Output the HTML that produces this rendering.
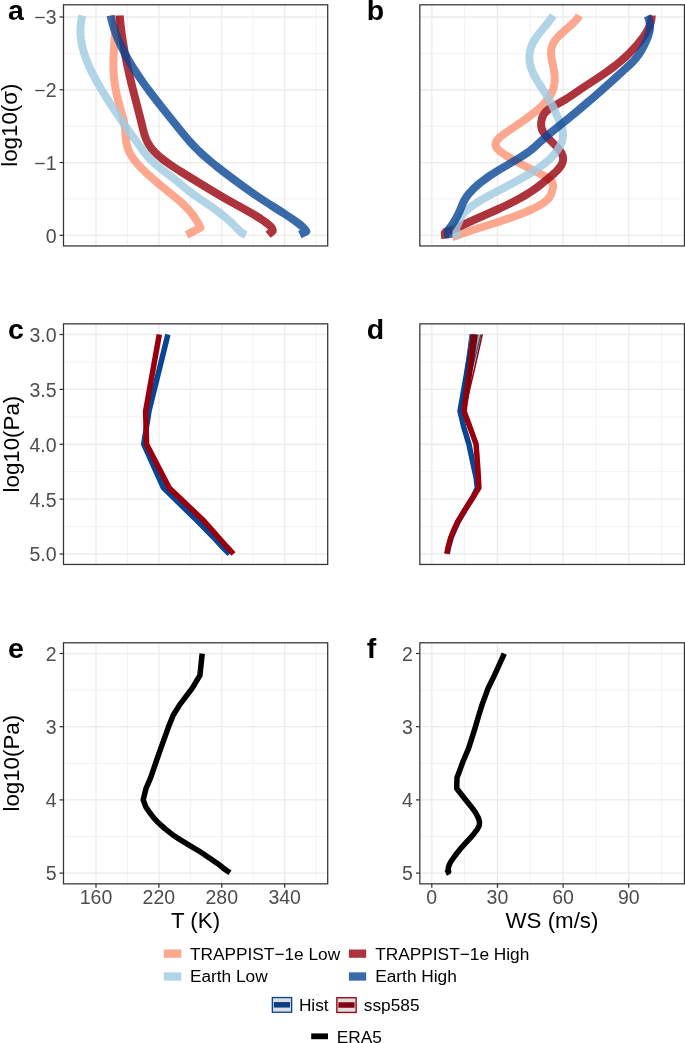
<!DOCTYPE html>
<html><head><meta charset="utf-8"><title>fig</title>
<style>
html,body{margin:0;padding:0;background:#fff;}
svg{display:block;will-change:transform;}
text{font-family:"Liberation Sans", sans-serif;}
</style></head><body>
<svg xmlns="http://www.w3.org/2000/svg" width="685" height="1043" viewBox="0 0 685 1043">
<rect width="685" height="1043" fill="#fff"/>
<defs>
<clipPath id="cp00"><rect x="63.50" y="4.80" width="264.20" height="241.15"/></clipPath>
<clipPath id="cp01"><rect x="63.50" y="323.85" width="264.20" height="240.60"/></clipPath>
<clipPath id="cp02"><rect x="63.50" y="642.80" width="264.20" height="241.05"/></clipPath>
<clipPath id="cp10"><rect x="419.85" y="4.80" width="264.60" height="241.15"/></clipPath>
<clipPath id="cp11"><rect x="419.85" y="323.85" width="264.60" height="240.60"/></clipPath>
<clipPath id="cp12"><rect x="419.85" y="642.80" width="264.60" height="241.05"/></clipPath>
</defs>
<rect x="63.50" y="4.80" width="264.20" height="241.15" fill="#fff"/>
<line x1="127.44" x2="127.44" y1="4.80" y2="245.95" stroke="#ebebeb" stroke-width="0.65"/>
<line x1="190.33" x2="190.33" y1="4.80" y2="245.95" stroke="#ebebeb" stroke-width="0.65"/>
<line x1="253.21" x2="253.21" y1="4.80" y2="245.95" stroke="#ebebeb" stroke-width="0.65"/>
<line x1="316.09" x2="316.09" y1="4.80" y2="245.95" stroke="#ebebeb" stroke-width="0.65"/>
<line x1="63.50" x2="327.70" y1="53.38" y2="53.38" stroke="#ebebeb" stroke-width="0.65"/>
<line x1="63.50" x2="327.70" y1="126.15" y2="126.15" stroke="#ebebeb" stroke-width="0.65"/>
<line x1="63.50" x2="327.70" y1="198.92" y2="198.92" stroke="#ebebeb" stroke-width="0.65"/>
<line x1="96.00" x2="96.00" y1="4.80" y2="245.95" stroke="#ebebeb" stroke-width="1.3"/>
<line x1="158.88" x2="158.88" y1="4.80" y2="245.95" stroke="#ebebeb" stroke-width="1.3"/>
<line x1="221.77" x2="221.77" y1="4.80" y2="245.95" stroke="#ebebeb" stroke-width="1.3"/>
<line x1="284.65" x2="284.65" y1="4.80" y2="245.95" stroke="#ebebeb" stroke-width="1.3"/>
<line x1="63.50" x2="327.70" y1="16.99" y2="16.99" stroke="#ebebeb" stroke-width="1.3"/>
<line x1="63.50" x2="327.70" y1="89.76" y2="89.76" stroke="#ebebeb" stroke-width="1.3"/>
<line x1="63.50" x2="327.70" y1="162.53" y2="162.53" stroke="#ebebeb" stroke-width="1.3"/>
<line x1="63.50" x2="327.70" y1="235.30" y2="235.30" stroke="#ebebeb" stroke-width="1.3"/>
<rect x="419.85" y="4.80" width="264.60" height="241.15" fill="#fff"/>
<line x1="464.62" x2="464.62" y1="4.80" y2="245.95" stroke="#ebebeb" stroke-width="0.65"/>
<line x1="530.27" x2="530.27" y1="4.80" y2="245.95" stroke="#ebebeb" stroke-width="0.65"/>
<line x1="595.92" x2="595.92" y1="4.80" y2="245.95" stroke="#ebebeb" stroke-width="0.65"/>
<line x1="661.58" x2="661.58" y1="4.80" y2="245.95" stroke="#ebebeb" stroke-width="0.65"/>
<line x1="419.85" x2="684.45" y1="53.38" y2="53.38" stroke="#ebebeb" stroke-width="0.65"/>
<line x1="419.85" x2="684.45" y1="126.15" y2="126.15" stroke="#ebebeb" stroke-width="0.65"/>
<line x1="419.85" x2="684.45" y1="198.92" y2="198.92" stroke="#ebebeb" stroke-width="0.65"/>
<line x1="431.80" x2="431.80" y1="4.80" y2="245.95" stroke="#ebebeb" stroke-width="1.3"/>
<line x1="497.45" x2="497.45" y1="4.80" y2="245.95" stroke="#ebebeb" stroke-width="1.3"/>
<line x1="563.10" x2="563.10" y1="4.80" y2="245.95" stroke="#ebebeb" stroke-width="1.3"/>
<line x1="628.75" x2="628.75" y1="4.80" y2="245.95" stroke="#ebebeb" stroke-width="1.3"/>
<line x1="419.85" x2="684.45" y1="16.99" y2="16.99" stroke="#ebebeb" stroke-width="1.3"/>
<line x1="419.85" x2="684.45" y1="89.76" y2="89.76" stroke="#ebebeb" stroke-width="1.3"/>
<line x1="419.85" x2="684.45" y1="162.53" y2="162.53" stroke="#ebebeb" stroke-width="1.3"/>
<line x1="419.85" x2="684.45" y1="235.30" y2="235.30" stroke="#ebebeb" stroke-width="1.3"/>
<rect x="63.50" y="323.85" width="264.20" height="240.60" fill="#fff"/>
<line x1="127.44" x2="127.44" y1="323.85" y2="564.45" stroke="#ebebeb" stroke-width="0.65"/>
<line x1="190.33" x2="190.33" y1="323.85" y2="564.45" stroke="#ebebeb" stroke-width="0.65"/>
<line x1="253.21" x2="253.21" y1="323.85" y2="564.45" stroke="#ebebeb" stroke-width="0.65"/>
<line x1="316.09" x2="316.09" y1="323.85" y2="564.45" stroke="#ebebeb" stroke-width="0.65"/>
<line x1="63.50" x2="327.70" y1="361.94" y2="361.94" stroke="#ebebeb" stroke-width="0.65"/>
<line x1="63.50" x2="327.70" y1="416.81" y2="416.81" stroke="#ebebeb" stroke-width="0.65"/>
<line x1="63.50" x2="327.70" y1="471.69" y2="471.69" stroke="#ebebeb" stroke-width="0.65"/>
<line x1="63.50" x2="327.70" y1="526.56" y2="526.56" stroke="#ebebeb" stroke-width="0.65"/>
<line x1="96.00" x2="96.00" y1="323.85" y2="564.45" stroke="#ebebeb" stroke-width="1.3"/>
<line x1="158.88" x2="158.88" y1="323.85" y2="564.45" stroke="#ebebeb" stroke-width="1.3"/>
<line x1="221.77" x2="221.77" y1="323.85" y2="564.45" stroke="#ebebeb" stroke-width="1.3"/>
<line x1="284.65" x2="284.65" y1="323.85" y2="564.45" stroke="#ebebeb" stroke-width="1.3"/>
<line x1="63.50" x2="327.70" y1="334.50" y2="334.50" stroke="#ebebeb" stroke-width="1.3"/>
<line x1="63.50" x2="327.70" y1="389.38" y2="389.38" stroke="#ebebeb" stroke-width="1.3"/>
<line x1="63.50" x2="327.70" y1="444.25" y2="444.25" stroke="#ebebeb" stroke-width="1.3"/>
<line x1="63.50" x2="327.70" y1="499.12" y2="499.12" stroke="#ebebeb" stroke-width="1.3"/>
<line x1="63.50" x2="327.70" y1="554.00" y2="554.00" stroke="#ebebeb" stroke-width="1.3"/>
<rect x="419.85" y="323.85" width="264.60" height="240.60" fill="#fff"/>
<line x1="464.62" x2="464.62" y1="323.85" y2="564.45" stroke="#ebebeb" stroke-width="0.65"/>
<line x1="530.27" x2="530.27" y1="323.85" y2="564.45" stroke="#ebebeb" stroke-width="0.65"/>
<line x1="595.92" x2="595.92" y1="323.85" y2="564.45" stroke="#ebebeb" stroke-width="0.65"/>
<line x1="661.58" x2="661.58" y1="323.85" y2="564.45" stroke="#ebebeb" stroke-width="0.65"/>
<line x1="419.85" x2="684.45" y1="361.94" y2="361.94" stroke="#ebebeb" stroke-width="0.65"/>
<line x1="419.85" x2="684.45" y1="416.81" y2="416.81" stroke="#ebebeb" stroke-width="0.65"/>
<line x1="419.85" x2="684.45" y1="471.69" y2="471.69" stroke="#ebebeb" stroke-width="0.65"/>
<line x1="419.85" x2="684.45" y1="526.56" y2="526.56" stroke="#ebebeb" stroke-width="0.65"/>
<line x1="431.80" x2="431.80" y1="323.85" y2="564.45" stroke="#ebebeb" stroke-width="1.3"/>
<line x1="497.45" x2="497.45" y1="323.85" y2="564.45" stroke="#ebebeb" stroke-width="1.3"/>
<line x1="563.10" x2="563.10" y1="323.85" y2="564.45" stroke="#ebebeb" stroke-width="1.3"/>
<line x1="628.75" x2="628.75" y1="323.85" y2="564.45" stroke="#ebebeb" stroke-width="1.3"/>
<line x1="419.85" x2="684.45" y1="334.50" y2="334.50" stroke="#ebebeb" stroke-width="1.3"/>
<line x1="419.85" x2="684.45" y1="389.38" y2="389.38" stroke="#ebebeb" stroke-width="1.3"/>
<line x1="419.85" x2="684.45" y1="444.25" y2="444.25" stroke="#ebebeb" stroke-width="1.3"/>
<line x1="419.85" x2="684.45" y1="499.12" y2="499.12" stroke="#ebebeb" stroke-width="1.3"/>
<line x1="419.85" x2="684.45" y1="554.00" y2="554.00" stroke="#ebebeb" stroke-width="1.3"/>
<rect x="63.50" y="642.80" width="264.20" height="241.05" fill="#fff"/>
<line x1="127.44" x2="127.44" y1="642.80" y2="883.85" stroke="#ebebeb" stroke-width="0.65"/>
<line x1="190.33" x2="190.33" y1="642.80" y2="883.85" stroke="#ebebeb" stroke-width="0.65"/>
<line x1="253.21" x2="253.21" y1="642.80" y2="883.85" stroke="#ebebeb" stroke-width="0.65"/>
<line x1="316.09" x2="316.09" y1="642.80" y2="883.85" stroke="#ebebeb" stroke-width="0.65"/>
<line x1="63.50" x2="327.70" y1="690.10" y2="690.10" stroke="#ebebeb" stroke-width="0.65"/>
<line x1="63.50" x2="327.70" y1="763.30" y2="763.30" stroke="#ebebeb" stroke-width="0.65"/>
<line x1="63.50" x2="327.70" y1="836.50" y2="836.50" stroke="#ebebeb" stroke-width="0.65"/>
<line x1="96.00" x2="96.00" y1="642.80" y2="883.85" stroke="#ebebeb" stroke-width="1.3"/>
<line x1="158.88" x2="158.88" y1="642.80" y2="883.85" stroke="#ebebeb" stroke-width="1.3"/>
<line x1="221.77" x2="221.77" y1="642.80" y2="883.85" stroke="#ebebeb" stroke-width="1.3"/>
<line x1="284.65" x2="284.65" y1="642.80" y2="883.85" stroke="#ebebeb" stroke-width="1.3"/>
<line x1="63.50" x2="327.70" y1="653.50" y2="653.50" stroke="#ebebeb" stroke-width="1.3"/>
<line x1="63.50" x2="327.70" y1="726.70" y2="726.70" stroke="#ebebeb" stroke-width="1.3"/>
<line x1="63.50" x2="327.70" y1="799.90" y2="799.90" stroke="#ebebeb" stroke-width="1.3"/>
<line x1="63.50" x2="327.70" y1="873.10" y2="873.10" stroke="#ebebeb" stroke-width="1.3"/>
<rect x="419.85" y="642.80" width="264.60" height="241.05" fill="#fff"/>
<line x1="464.62" x2="464.62" y1="642.80" y2="883.85" stroke="#ebebeb" stroke-width="0.65"/>
<line x1="530.27" x2="530.27" y1="642.80" y2="883.85" stroke="#ebebeb" stroke-width="0.65"/>
<line x1="595.92" x2="595.92" y1="642.80" y2="883.85" stroke="#ebebeb" stroke-width="0.65"/>
<line x1="661.58" x2="661.58" y1="642.80" y2="883.85" stroke="#ebebeb" stroke-width="0.65"/>
<line x1="419.85" x2="684.45" y1="690.10" y2="690.10" stroke="#ebebeb" stroke-width="0.65"/>
<line x1="419.85" x2="684.45" y1="763.30" y2="763.30" stroke="#ebebeb" stroke-width="0.65"/>
<line x1="419.85" x2="684.45" y1="836.50" y2="836.50" stroke="#ebebeb" stroke-width="0.65"/>
<line x1="431.80" x2="431.80" y1="642.80" y2="883.85" stroke="#ebebeb" stroke-width="1.3"/>
<line x1="497.45" x2="497.45" y1="642.80" y2="883.85" stroke="#ebebeb" stroke-width="1.3"/>
<line x1="563.10" x2="563.10" y1="642.80" y2="883.85" stroke="#ebebeb" stroke-width="1.3"/>
<line x1="628.75" x2="628.75" y1="642.80" y2="883.85" stroke="#ebebeb" stroke-width="1.3"/>
<line x1="419.85" x2="684.45" y1="653.50" y2="653.50" stroke="#ebebeb" stroke-width="1.3"/>
<line x1="419.85" x2="684.45" y1="726.70" y2="726.70" stroke="#ebebeb" stroke-width="1.3"/>
<line x1="419.85" x2="684.45" y1="799.90" y2="799.90" stroke="#ebebeb" stroke-width="1.3"/>
<line x1="419.85" x2="684.45" y1="873.10" y2="873.10" stroke="#ebebeb" stroke-width="1.3"/>
<g clip-path="url(#cp00)">
<path d="M115.33,15.50 L115.35,17.00 L115.36,18.50 L115.36,20.00 L115.35,21.50 L115.32,23.00 L115.29,24.50 L115.24,26.00 L115.19,27.50 L115.13,29.00 L115.06,30.50 L114.99,32.00 L114.91,33.50 L114.83,35.00 L114.74,36.50 L114.65,38.00 L114.56,39.50 L114.46,41.00 L114.37,42.50 L114.28,44.00 L114.19,45.50 L114.10,47.00 L114.01,48.50 L113.92,50.00 L113.84,51.50 L113.77,53.00 L113.70,54.50 L113.64,56.00 L113.59,57.50 L113.54,59.00 L113.51,60.50 L113.48,62.00 L113.47,63.50 L113.46,65.00 L113.47,66.50 L113.50,68.00 L113.53,69.50 L113.58,71.00 L113.65,72.50 L113.74,74.00 L113.84,75.50 L113.96,77.00 L114.10,78.50 L114.26,80.00 L114.44,81.50 L114.64,83.00 L114.86,84.50 L115.09,86.00 L115.35,87.50 L115.62,89.00 L115.91,90.50 L116.22,92.00 L116.54,93.50 L116.87,95.00 L117.21,96.50 L117.57,98.00 L117.94,99.50 L118.32,101.00 L118.71,102.50 L119.11,104.00 L119.51,105.50 L119.92,107.00 L120.34,108.50 L120.76,110.00 L121.19,111.50 L121.62,113.00 L122.05,114.50 L122.46,116.00 L122.87,117.50 L123.25,119.00 L123.61,120.50 L123.95,122.00 L124.25,123.50 L124.51,125.00 L124.74,126.50 L124.92,128.00 L125.08,129.50 L125.21,131.00 L125.33,132.50 L125.44,134.00 L125.55,135.50 L125.68,137.00 L125.82,138.50 L126.00,140.00 L126.20,141.50 L126.45,143.00 L126.75,144.50 L127.11,146.00 L127.54,147.50 L128.05,149.00 L128.64,150.50 L129.32,152.00 L130.08,153.50 L130.93,155.00 L131.87,156.50 L132.88,158.00 L133.96,159.50 L135.12,161.00 L136.34,162.50 L137.63,164.00 L138.97,165.50 L140.37,167.00 L141.82,168.50 L143.32,170.00 L144.86,171.50 L146.45,173.00 L148.07,174.50 L149.72,176.00 L151.41,177.50 L153.12,179.00 L154.85,180.50 L156.60,182.00 L158.37,183.50 L160.16,185.00 L161.97,186.50 L163.79,188.00 L165.63,189.50 L167.49,191.00 L169.36,192.50 L171.23,194.00 L173.09,195.50 L174.93,197.00 L176.73,198.50 L178.49,200.00 L180.20,201.50 L181.85,203.00 L183.44,204.50 L184.97,206.00 L186.44,207.50 L187.85,209.00 L189.20,210.50 L190.49,212.00 L191.72,213.50 L192.88,215.00 L193.99,216.50 L195.04,218.00 L196.03,219.50 L196.95,221.00 L197.82,222.50 L198.62,224.00 L199.35,225.50 L200.02,227.00 L200.31,227.70 L186.6,234.9" fill="none" stroke="#fc9272" stroke-width="8.00" stroke-opacity="0.80" stroke-linecap="butt" stroke-linejoin="round"/>
<path d="M119.70,15.50 L119.83,17.00 L119.97,18.50 L120.11,20.00 L120.26,21.50 L120.41,23.00 L120.58,24.50 L120.75,26.00 L120.92,27.50 L121.10,29.00 L121.29,30.50 L121.48,32.00 L121.68,33.50 L121.89,35.00 L122.10,36.50 L122.32,38.00 L122.55,39.50 L122.78,41.00 L123.01,42.50 L123.26,44.00 L123.50,45.50 L123.76,47.00 L124.01,48.50 L124.28,50.00 L124.55,51.50 L124.82,53.00 L125.10,54.50 L125.39,56.00 L125.68,57.50 L125.97,59.00 L126.27,60.50 L126.58,62.00 L126.89,63.50 L127.20,65.00 L127.52,66.50 L127.84,68.00 L128.17,69.50 L128.50,71.00 L128.84,72.50 L129.18,74.00 L129.53,75.50 L129.88,77.00 L130.23,78.50 L130.59,80.00 L130.95,81.50 L131.31,83.00 L131.68,84.50 L132.05,86.00 L132.43,87.50 L132.81,89.00 L133.19,90.50 L133.57,92.00 L133.95,93.50 L134.34,95.00 L134.73,96.50 L135.11,98.00 L135.50,99.50 L135.89,101.00 L136.28,102.50 L136.67,104.00 L137.06,105.50 L137.45,107.00 L137.84,108.50 L138.22,110.00 L138.61,111.50 L138.99,113.00 L139.38,114.50 L139.76,116.00 L140.14,117.50 L140.51,119.00 L140.88,120.50 L141.25,122.00 L141.62,123.50 L141.98,125.00 L142.34,126.50 L142.70,128.00 L143.07,129.50 L143.45,131.00 L143.86,132.50 L144.29,134.00 L144.77,135.50 L145.29,137.00 L145.86,138.50 L146.50,140.00 L147.20,141.50 L147.98,143.00 L148.84,144.50 L149.79,146.00 L150.84,147.50 L151.99,149.00 L153.26,150.50 L154.64,152.00 L156.13,153.50 L157.74,155.00 L159.44,156.50 L161.24,158.00 L163.13,159.50 L165.10,161.00 L167.14,162.50 L169.25,164.00 L171.43,165.50 L173.66,167.00 L175.95,168.50 L178.27,170.00 L180.64,171.50 L183.03,173.00 L185.45,174.50 L187.89,176.00 L190.34,177.50 L192.80,179.00 L195.25,180.50 L197.70,182.00 L200.15,183.50 L202.59,185.00 L205.04,186.50 L207.50,188.00 L209.97,189.50 L212.45,191.00 L214.95,192.50 L217.46,194.00 L220.00,195.50 L222.57,197.00 L225.17,198.50 L227.80,200.00 L230.47,201.50 L233.17,203.00 L235.89,204.50 L238.62,206.00 L241.35,207.50 L244.06,209.00 L246.74,210.50 L249.39,212.00 L251.99,213.50 L254.53,215.00 L257.00,216.50 L259.38,218.00 L261.68,219.50 L263.87,221.00 L265.94,222.50 L267.88,224.00 L269.63,225.50 L271.09,227.00 L272.14,228.50 L272.68,230.00 L272.72,230.90 L268.1,234.8" fill="none" stroke="#99000d" stroke-width="8.00" stroke-opacity="0.80" stroke-linecap="butt" stroke-linejoin="round"/>
<path d="M82.39,15.50 L82.01,17.00 L81.68,18.50 L81.38,20.00 L81.13,21.50 L80.92,23.00 L80.75,24.50 L80.61,26.00 L80.52,27.50 L80.46,29.00 L80.43,30.50 L80.45,32.00 L80.50,33.50 L80.58,35.00 L80.70,36.50 L80.85,38.00 L81.03,39.50 L81.25,41.00 L81.50,42.50 L81.77,44.00 L82.08,45.50 L82.42,47.00 L82.79,48.50 L83.18,50.00 L83.60,51.50 L84.05,53.00 L84.53,54.50 L85.03,56.00 L85.55,57.50 L86.10,59.00 L86.67,60.50 L87.27,62.00 L87.89,63.50 L88.53,65.00 L89.19,66.50 L89.86,68.00 L90.56,69.50 L91.28,71.00 L92.02,72.50 L92.77,74.00 L93.54,75.50 L94.33,77.00 L95.13,78.50 L95.95,80.00 L96.78,81.50 L97.62,83.00 L98.48,84.50 L99.35,86.00 L100.23,87.50 L101.12,89.00 L102.03,90.50 L102.94,92.00 L103.86,93.50 L104.79,95.00 L105.72,96.50 L106.67,98.00 L107.62,99.50 L108.57,101.00 L109.54,102.50 L110.51,104.00 L111.49,105.50 L112.47,107.00 L113.46,108.50 L114.45,110.00 L115.45,111.50 L116.46,113.00 L117.47,114.50 L118.49,116.00 L119.51,117.50 L120.53,119.00 L121.56,120.50 L122.60,122.00 L123.64,123.50 L124.68,125.00 L125.73,126.50 L126.78,128.00 L127.84,129.50 L128.90,131.00 L129.96,132.50 L131.02,134.00 L132.09,135.50 L133.16,137.00 L134.24,138.50 L135.31,140.00 L136.39,141.50 L137.47,143.00 L138.56,144.50 L139.65,146.00 L140.75,147.50 L141.86,149.00 L142.99,150.50 L144.12,152.00 L145.28,153.50 L146.49,155.00 L147.74,156.50 L149.07,158.00 L150.47,159.50 L151.97,161.00 L153.57,162.50 L155.25,164.00 L157.01,165.50 L158.84,167.00 L160.71,168.50 L162.63,170.00 L164.57,171.50 L166.54,173.00 L168.50,174.50 L170.46,176.00 L172.40,177.50 L174.31,179.00 L176.18,180.50 L177.99,182.00 L179.77,183.50 L181.54,185.00 L183.31,186.50 L185.11,188.00 L186.95,189.50 L188.86,191.00 L190.84,192.50 L192.88,194.00 L194.98,195.50 L197.13,197.00 L199.30,198.50 L201.50,200.00 L203.72,201.50 L205.93,203.00 L208.14,204.50 L210.33,206.00 L212.49,207.50 L214.61,209.00 L216.68,210.50 L218.69,212.00 L220.65,213.50 L222.55,215.00 L224.39,216.50 L226.17,218.00 L227.91,219.50 L229.59,221.00 L231.21,222.50 L232.79,224.00 L234.31,225.50 L235.79,227.00 L237.22,228.50 L238.65,230.00 L240.27,231.50 L242.27,233.00 L244.88,234.50 L245.91,235.00" fill="none" stroke="#9ecae1" stroke-width="8.00" stroke-opacity="0.80" stroke-linecap="butt" stroke-linejoin="round"/>
<path d="M110.59,15.50 L110.90,17.00 L111.24,18.50 L111.60,20.00 L111.98,21.50 L112.38,23.00 L112.80,24.50 L113.25,26.00 L113.71,27.50 L114.20,29.00 L114.71,30.50 L115.24,32.00 L115.78,33.50 L116.35,35.00 L116.94,36.50 L117.55,38.00 L118.17,39.50 L118.82,41.00 L119.48,42.50 L120.16,44.00 L120.86,45.50 L121.58,47.00 L122.31,48.50 L123.07,50.00 L123.84,51.50 L124.62,53.00 L125.42,54.50 L126.24,56.00 L127.08,57.50 L127.92,59.00 L128.79,60.50 L129.67,62.00 L130.57,63.50 L131.47,65.00 L132.40,66.50 L133.34,68.00 L134.29,69.50 L135.25,71.00 L136.23,72.50 L137.22,74.00 L138.23,75.50 L139.25,77.00 L140.27,78.50 L141.32,80.00 L142.37,81.50 L143.43,83.00 L144.51,84.50 L145.59,86.00 L146.69,87.50 L147.79,89.00 L148.91,90.50 L150.03,92.00 L151.16,93.50 L152.30,95.00 L153.45,96.50 L154.60,98.00 L155.76,99.50 L156.93,101.00 L158.10,102.50 L159.27,104.00 L160.46,105.50 L161.64,107.00 L162.83,108.50 L164.03,110.00 L165.22,111.50 L166.42,113.00 L167.62,114.50 L168.83,116.00 L170.03,117.50 L171.24,119.00 L172.44,120.50 L173.65,122.00 L174.86,123.50 L176.06,125.00 L177.26,126.50 L178.47,128.00 L179.68,129.50 L180.89,131.00 L182.11,132.50 L183.34,134.00 L184.59,135.50 L185.85,137.00 L187.13,138.50 L188.43,140.00 L189.75,141.50 L191.10,143.00 L192.48,144.50 L193.89,146.00 L195.34,147.50 L196.82,149.00 L198.34,150.50 L199.90,152.00 L201.50,153.50 L203.14,155.00 L204.82,156.50 L206.53,158.00 L208.28,159.50 L210.06,161.00 L211.86,162.50 L213.70,164.00 L215.56,165.50 L217.44,167.00 L219.35,168.50 L221.27,170.00 L223.22,171.50 L225.19,173.00 L227.17,174.50 L229.16,176.00 L231.16,177.50 L233.18,179.00 L235.20,180.50 L237.23,182.00 L239.27,183.50 L241.32,185.00 L243.39,186.50 L245.47,188.00 L247.56,189.50 L249.68,191.00 L251.81,192.50 L253.97,194.00 L256.15,195.50 L258.36,197.00 L260.60,198.50 L262.87,200.00 L265.17,201.50 L267.50,203.00 L269.85,204.50 L272.22,206.00 L274.59,207.50 L276.97,209.00 L279.33,210.50 L281.69,212.00 L284.02,213.50 L286.33,215.00 L288.60,216.50 L290.83,218.00 L293.01,219.50 L295.13,221.00 L297.19,222.50 L299.18,224.00 L301.06,225.50 L302.78,227.00 L304.26,228.50 L305.43,230.00 L306.23,231.50 L299.8,234.6" fill="none" stroke="#084594" stroke-width="8.00" stroke-opacity="0.80" stroke-linecap="butt" stroke-linejoin="round"/>
</g>
<g clip-path="url(#cp10)">
<path d="M579.32,15.50 L578.43,17.00 L577.36,18.50 L576.12,20.00 L574.74,21.50 L573.25,23.00 L571.67,24.50 L570.01,26.00 L568.31,27.50 L566.58,29.00 L564.85,30.50 L563.15,32.00 L561.48,33.50 L559.89,35.00 L558.38,36.50 L556.98,38.00 L555.73,39.50 L554.63,41.00 L553.69,42.50 L552.92,44.00 L552.30,45.50 L551.81,47.00 L551.45,48.50 L551.21,50.00 L551.08,51.50 L551.04,53.00 L551.08,54.50 L551.20,56.00 L551.38,57.50 L551.61,59.00 L551.89,60.50 L552.19,62.00 L552.52,63.50 L552.86,65.00 L553.19,66.50 L553.51,68.00 L553.81,69.50 L554.08,71.00 L554.30,72.50 L554.48,74.00 L554.62,75.50 L554.70,77.00 L554.72,78.50 L554.69,80.00 L554.60,81.50 L554.44,83.00 L554.22,84.50 L553.93,86.00 L553.56,87.50 L553.11,89.00 L552.59,90.50 L551.98,92.00 L551.28,93.50 L550.49,95.00 L549.61,96.50 L548.64,98.00 L547.56,99.50 L546.38,101.00 L545.10,102.50 L543.72,104.00 L542.25,105.50 L540.69,107.00 L539.05,108.50 L537.33,110.00 L535.54,111.50 L533.69,113.00 L531.77,114.50 L529.81,116.00 L527.79,117.50 L525.73,119.00 L523.63,120.50 L521.50,122.00 L519.34,123.50 L517.16,125.00 L514.97,126.50 L512.76,128.00 L510.55,129.50 L508.34,131.00 L506.15,132.50 L504.03,134.00 L502.03,135.50 L500.21,137.00 L498.61,138.50 L497.29,140.00 L496.29,141.50 L495.67,143.00 L495.48,144.50 L495.76,146.00 L496.50,147.50 L497.64,149.00 L499.12,150.50 L500.89,152.00 L502.92,153.50 L505.16,155.00 L507.57,156.50 L510.13,158.00 L512.78,159.50 L515.50,161.00 L518.26,162.50 L521.06,164.00 L523.90,165.50 L526.78,167.00 L529.71,168.50 L532.68,170.00 L535.69,171.50 L538.69,173.00 L541.60,174.50 L544.32,176.00 L546.79,177.50 L548.91,179.00 L550.60,180.50 L551.80,182.00 L552.56,183.50 L552.94,185.00 L553.02,186.50 L552.86,188.00 L552.54,189.50 L552.13,191.00 L551.65,192.50 L551.08,194.00 L550.36,195.50 L549.46,197.00 L548.33,198.50 L546.95,200.00 L545.26,201.50 L543.27,203.00 L540.99,204.50 L538.43,206.00 L535.61,207.50 L532.55,209.00 L529.25,210.50 L525.75,212.00 L522.04,213.50 L518.15,215.00 L514.10,216.50 L509.89,218.00 L505.55,219.50 L501.08,221.00 L496.51,222.50 L491.85,224.00 L487.11,225.50 L482.31,227.00 L477.47,228.50 L472.60,230.00 L470.98,230.50 L452,237.2" fill="none" stroke="#fc9272" stroke-width="8.00" stroke-opacity="0.80" stroke-linecap="butt" stroke-linejoin="round"/>
<path d="M651.63,15.50 L651.62,17.00 L651.51,18.50 L651.30,20.00 L650.99,21.50 L650.59,23.00 L650.11,24.50 L649.54,26.00 L648.90,27.50 L648.18,29.00 L647.39,30.50 L646.54,32.00 L645.62,33.50 L644.65,35.00 L643.62,36.50 L642.54,38.00 L641.42,39.50 L640.26,41.00 L639.06,42.50 L637.82,44.00 L636.54,45.50 L635.22,47.00 L633.85,48.50 L632.45,50.00 L631.00,51.50 L629.51,53.00 L627.97,54.50 L626.39,56.00 L624.77,57.50 L623.09,59.00 L621.37,60.50 L619.60,62.00 L617.79,63.50 L615.92,65.00 L614.00,66.50 L612.03,68.00 L610.01,69.50 L607.94,71.00 L605.82,72.50 L603.65,74.00 L601.45,75.50 L599.21,77.00 L596.95,78.50 L594.67,80.00 L592.39,81.50 L590.10,83.00 L587.81,84.50 L585.53,86.00 L583.27,87.50 L581.03,89.00 L578.82,90.50 L576.64,92.00 L574.47,93.50 L572.28,95.00 L570.05,96.50 L567.74,98.00 L565.34,99.50 L562.81,101.00 L560.17,102.50 L557.49,104.00 L554.84,105.50 L552.31,107.00 L549.97,108.50 L547.90,110.00 L546.17,111.50 L544.78,113.00 L543.69,114.50 L542.86,116.00 L542.25,117.50 L541.80,119.00 L541.48,120.50 L541.25,122.00 L541.12,123.50 L541.12,125.00 L541.26,126.50 L541.55,128.00 L542.03,129.50 L542.70,131.00 L543.57,132.50 L544.62,134.00 L545.81,135.50 L547.12,137.00 L548.53,138.50 L550.00,140.00 L551.51,141.50 L553.03,143.00 L554.53,144.50 L555.98,146.00 L557.36,147.50 L558.65,149.00 L559.81,150.50 L560.81,152.00 L561.65,153.50 L562.31,155.00 L562.78,156.50 L563.04,158.00 L563.09,159.50 L562.90,161.00 L562.49,162.50 L561.86,164.00 L561.03,165.50 L560.02,167.00 L558.85,168.50 L557.54,170.00 L556.10,171.50 L554.55,173.00 L552.90,174.50 L551.19,176.00 L549.42,177.50 L547.61,179.00 L545.77,180.50 L543.93,182.00 L542.08,183.50 L540.18,185.00 L538.24,186.50 L536.23,188.00 L534.14,189.50 L531.95,191.00 L529.66,192.50 L527.27,194.00 L524.77,195.50 L522.19,197.00 L519.51,198.50 L516.74,200.00 L513.88,201.50 L510.94,203.00 L507.93,204.50 L504.83,206.00 L501.67,207.50 L498.44,209.00 L495.14,210.50 L491.78,212.00 L488.38,213.50 L484.96,215.00 L481.54,216.50 L478.13,218.00 L474.76,219.50 L471.45,221.00 L468.19,222.50 L464.96,224.00 L461.71,225.50 L458.41,227.00 L455.03,228.50 L451.52,230.00 L446,231.5 L444.8,233 L445.3,238.7" fill="none" stroke="#99000d" stroke-width="8.00" stroke-opacity="0.80" stroke-linecap="butt" stroke-linejoin="round"/>
<path d="M553.16,15.50 L552.20,17.00 L551.16,18.50 L550.07,20.00 L548.93,21.50 L547.74,23.00 L546.53,24.50 L545.29,26.00 L544.05,27.50 L542.80,29.00 L541.56,30.50 L540.34,32.00 L539.14,33.50 L537.99,35.00 L536.89,36.50 L535.84,38.00 L534.86,39.50 L533.96,41.00 L533.14,42.50 L532.41,44.00 L531.75,45.50 L531.18,47.00 L530.69,48.50 L530.28,50.00 L529.94,51.50 L529.68,53.00 L529.50,54.50 L529.39,56.00 L529.36,57.50 L529.40,59.00 L529.51,60.50 L529.69,62.00 L529.94,63.50 L530.26,65.00 L530.64,66.50 L531.09,68.00 L531.61,69.50 L532.19,71.00 L532.83,72.50 L533.53,74.00 L534.28,75.50 L535.08,77.00 L535.92,78.50 L536.79,80.00 L537.70,81.50 L538.63,83.00 L539.59,84.50 L540.56,86.00 L541.54,87.50 L542.53,89.00 L543.51,90.50 L544.50,92.00 L545.47,93.50 L546.43,95.00 L547.38,96.50 L548.29,98.00 L549.18,99.50 L550.04,101.00 L550.85,102.50 L551.64,104.00 L552.39,105.50 L553.12,107.00 L553.82,108.50 L554.51,110.00 L555.17,111.50 L555.83,113.00 L556.47,114.50 L557.10,116.00 L557.74,117.50 L558.37,119.00 L559.00,120.50 L559.64,122.00 L560.26,123.50 L560.86,125.00 L561.42,126.50 L561.91,128.00 L562.33,129.50 L562.65,131.00 L562.87,132.50 L562.99,134.00 L562.99,135.50 L562.88,137.00 L562.66,138.50 L562.33,140.00 L561.87,141.50 L561.31,143.00 L560.64,144.50 L559.87,146.00 L559.02,147.50 L558.08,149.00 L557.08,150.50 L556.01,152.00 L554.86,153.50 L553.64,155.00 L552.32,156.50 L550.90,158.00 L549.36,159.50 L547.71,161.00 L545.92,162.50 L544.02,164.00 L542.01,165.50 L539.90,167.00 L537.69,168.50 L535.41,170.00 L533.05,171.50 L530.62,173.00 L528.13,174.50 L525.58,176.00 L522.97,177.50 L520.32,179.00 L517.62,180.50 L514.89,182.00 L512.12,183.50 L509.32,185.00 L506.50,186.50 L503.66,188.00 L500.80,189.50 L497.93,191.00 L495.06,192.50 L492.21,194.00 L489.39,195.50 L486.63,197.00 L483.93,198.50 L481.33,200.00 L478.82,201.50 L476.43,203.00 L474.16,204.50 L472.03,206.00 L470.02,207.50 L468.17,209.00 L466.46,210.50 L464.92,212.00 L463.54,213.50 L462.33,215.00 L461.31,216.50 L460.47,218.00 L459.83,219.50 L459.51,220.50 L456.4,227.4 L456.4,237.9" fill="none" stroke="#9ecae1" stroke-width="8.00" stroke-opacity="0.80" stroke-linecap="butt" stroke-linejoin="round"/>
<path d="M647.53,15.90 L648.16,17.40 L648.71,18.90 L649.16,20.40 L649.51,21.90 L649.77,23.40 L649.93,24.90 L649.99,26.40 L649.96,27.90 L649.82,29.40 L649.59,30.90 L649.26,32.40 L648.84,33.90 L648.35,35.40 L647.81,36.90 L647.21,38.40 L646.58,39.90 L645.93,41.40 L645.25,42.90 L644.56,44.40 L643.83,45.90 L643.06,47.40 L642.25,48.90 L641.40,50.40 L640.49,51.90 L639.52,53.40 L638.49,54.90 L637.38,56.40 L636.21,57.90 L634.95,59.40 L633.60,60.90 L632.18,62.40 L630.67,63.90 L629.11,65.40 L627.50,66.90 L625.86,68.40 L624.20,69.90 L622.54,71.40 L620.87,72.90 L619.21,74.40 L617.54,75.90 L615.87,77.40 L614.20,78.90 L612.53,80.40 L610.86,81.90 L609.18,83.40 L607.50,84.90 L605.82,86.40 L604.13,87.90 L602.44,89.40 L600.75,90.90 L599.05,92.40 L597.35,93.90 L595.64,95.40 L593.92,96.90 L592.20,98.40 L590.48,99.90 L588.74,101.40 L587.00,102.90 L585.25,104.40 L583.49,105.90 L581.73,107.40 L579.96,108.90 L578.17,110.40 L576.38,111.90 L574.58,113.40 L572.77,114.90 L570.95,116.40 L569.12,117.90 L567.27,119.40 L565.42,120.90 L563.56,122.40 L561.68,123.90 L559.81,125.40 L557.93,126.90 L556.06,128.40 L554.20,129.90 L552.35,131.40 L550.52,132.90 L548.70,134.40 L546.92,135.90 L545.16,137.40 L543.45,138.90 L541.77,140.40 L540.14,141.90 L538.53,143.40 L536.92,144.90 L535.27,146.40 L533.56,147.90 L531.77,149.40 L529.85,150.90 L527.81,152.40 L525.65,153.90 L523.38,155.40 L521.03,156.90 L518.60,158.40 L516.11,159.90 L513.58,161.40 L511.02,162.90 L508.45,164.40 L505.87,165.90 L503.31,167.40 L500.78,168.90 L498.29,170.40 L495.87,171.90 L493.50,173.40 L491.20,174.90 L488.97,176.40 L486.81,177.90 L484.73,179.40 L482.72,180.90 L480.79,182.40 L478.94,183.90 L477.18,185.40 L475.49,186.90 L473.89,188.40 L472.38,189.90 L470.96,191.40 L469.62,192.90 L468.37,194.40 L467.21,195.90 L466.15,197.40 L465.18,198.90 L464.30,200.40 L463.52,201.90 L462.81,203.40 L462.16,204.90 L461.55,206.40 L460.95,207.90 L460.35,209.40 L459.72,210.90 L459.05,212.40 L458.35,213.90 L457.61,215.40 L456.82,216.90 L456.00,218.40 L455.14,219.90 L454.24,221.40 L453.30,222.90 L452.33,224.40 L451.32,225.90 L450.27,227.40 L449.18,228.90 L448.06,230.40 L447.98,230.50 L448.4,238" fill="none" stroke="#084594" stroke-width="8.00" stroke-opacity="0.80" stroke-linecap="butt" stroke-linejoin="round"/>
</g>
<g clip-path="url(#cp01)">
<path d="M167.9,334.5 L149.0,411.2 L143.7,444.2 L163.4,487.9 L197.5,521.0 L213.2,537.0 L221.6,546.2 L229.5,554.0" fill="none" stroke="#084594" stroke-width="5.50" stroke-opacity="1.00" stroke-linecap="butt" stroke-linejoin="round"/>
<path d="M159.3,334.5 L145.6,411.2 L146.6,444.2 L169.3,487.9 L204.0,521.0 L218.2,537.0 L226.3,546.2 L233.5,554.0" fill="none" stroke="#99000d" stroke-width="5.50" stroke-opacity="1.00" stroke-linecap="butt" stroke-linejoin="round"/>
</g>
<g clip-path="url(#cp11)">
<path d="M473.4,334.4 L460.0,411.1 L463.9,427.5 L468.9,444.1 L473.0,463.5 L476.1,477.5 L477.3,487.8 L473.3,496.5 L464.6,510.5 L458.2,521.5 L454.6,529.5 L451.2,537.5 L448.7,546.5 L447.2,553.8" fill="none" stroke="#084594" stroke-width="5.50" stroke-opacity="1.00" stroke-linecap="butt" stroke-linejoin="round"/>
<path d="M469.9,334.4 L481.0,334.4 L472.6,367.4 L466.3,386.7 L460.5,411.1 L459.5,411.1 L463.2,386.7 L465.6,367.4 Z" fill="#000" fill-opacity="0.2"/>
<path d="M469.9,334.4 L465.6,367.4 L463.2,386.7 L459.5,411.1 M481.0,334.4 L472.6,367.4 L466.3,386.7 L460.5,411.1" fill="none" stroke="#084594" stroke-width="0.9"/>
<path d="M475.2,334.4 L464.0,411.1 L470.1,427.5 L476.1,444.1 L477.5,463.5 L478.4,477.5 L478.9,487.8 L473.5,496.5 L464.6,510.5 L457.8,521.5 L454.1,529.5 L450.8,537.5 L448.3,546.5 L446.8,553.8" fill="none" stroke="#99000d" stroke-width="5.50" stroke-opacity="1.00" stroke-linecap="butt" stroke-linejoin="round"/>
<path d="M471.1,334.4 L482.3,334.4 L474.9,367.4 L470.3,386.7 L464.5,411.1 L463.5,411.1 L466.2,386.7 L468.2,367.4 Z" fill="#000" fill-opacity="0.2"/>
<path d="M471.1,334.4 L468.2,367.4 L466.2,386.7 L463.5,411.1 M482.3,334.4 L474.9,367.4 L470.3,386.7 L464.5,411.1" fill="none" stroke="#99000d" stroke-width="1.5"/>
</g>
<g clip-path="url(#cp02)">
<path d="M202.2,653.6 L199.9,675.4 L192.3,688.2 L179.8,704.6 L173.2,715.3 L168.6,726.6 L160.7,748.6 L156.2,761.5 L150.6,777.8 L146.0,788.5 L143.2,799.8 L145.8,806.9 L149.8,812.7 L153.6,817.6 L157.3,821.8 L161.5,825.6 L165.2,828.9 L172.5,834.7 L180.0,839.6 L187.0,843.9 L193.2,847.6 L199.0,851.0 L203.5,854.0 L207.5,856.7 L211.3,859.3 L214.8,861.7 L218.0,863.8 L221.0,866.2 L224.2,868.9 L230.0,872.7" fill="none" stroke="#000" stroke-width="5.50" stroke-opacity="1.00" stroke-linecap="butt" stroke-linejoin="round"/>
</g>
<g clip-path="url(#cp12)">
<path d="M504.3,653.6 L494.4,675.4 L488.1,688.3 L482.1,704.6 L478.8,715.3 L475.5,726.6 L468.5,748.6 L463.0,761.5 L457.0,777.8 L456.7,788.5 L465.6,799.8 L471.4,806.9 L475.6,812.7 L478.2,817.6 L479.5,821.8 L479.2,825.6 L477.6,828.9 L473.3,834.7 L468.8,839.6 L464.8,843.9 L461.5,847.6 L458.7,851.0 L456.3,854.0 L454.3,856.7 L452.5,859.3 L450.9,861.7 L449.7,863.8 L448.9,865.9 L448.3,867.8 L448.2,869.6 L448.6,871.8 L445.7,873.2" fill="none" stroke="#000" stroke-width="5.50" stroke-opacity="1.00" stroke-linecap="butt" stroke-linejoin="round"/>
</g>
<rect x="63.50" y="4.80" width="264.20" height="241.15" fill="none" stroke="#333333" stroke-width="1.25"/>
<rect x="63.50" y="323.85" width="264.20" height="240.60" fill="none" stroke="#333333" stroke-width="1.25"/>
<rect x="63.50" y="642.80" width="264.20" height="241.05" fill="none" stroke="#333333" stroke-width="1.25"/>
<rect x="419.85" y="4.80" width="264.60" height="241.15" fill="none" stroke="#333333" stroke-width="1.25"/>
<rect x="419.85" y="323.85" width="264.60" height="240.60" fill="none" stroke="#333333" stroke-width="1.25"/>
<rect x="419.85" y="642.80" width="264.60" height="241.05" fill="none" stroke="#333333" stroke-width="1.25"/>
<line x1="59.60" x2="63.50" y1="16.99" y2="16.99" stroke="#333333" stroke-width="1.25"/>
<text x="56.50" y="24.37" text-anchor="end" font-size="19.50" fill="#4d4d4d">−3</text>
<line x1="59.60" x2="63.50" y1="89.76" y2="89.76" stroke="#333333" stroke-width="1.25"/>
<text x="56.50" y="97.14" text-anchor="end" font-size="19.50" fill="#4d4d4d">−2</text>
<line x1="59.60" x2="63.50" y1="162.53" y2="162.53" stroke="#333333" stroke-width="1.25"/>
<text x="56.50" y="169.91" text-anchor="end" font-size="19.50" fill="#4d4d4d">−1</text>
<line x1="59.60" x2="63.50" y1="235.30" y2="235.30" stroke="#333333" stroke-width="1.25"/>
<text x="56.50" y="242.68" text-anchor="end" font-size="19.50" fill="#4d4d4d">0</text>
<line x1="59.60" x2="63.50" y1="334.50" y2="334.50" stroke="#333333" stroke-width="1.25"/>
<text x="56.50" y="341.88" text-anchor="end" font-size="19.50" fill="#4d4d4d">3.0</text>
<line x1="59.60" x2="63.50" y1="389.38" y2="389.38" stroke="#333333" stroke-width="1.25"/>
<text x="56.50" y="396.76" text-anchor="end" font-size="19.50" fill="#4d4d4d">3.5</text>
<line x1="59.60" x2="63.50" y1="444.25" y2="444.25" stroke="#333333" stroke-width="1.25"/>
<text x="56.50" y="451.63" text-anchor="end" font-size="19.50" fill="#4d4d4d">4.0</text>
<line x1="59.60" x2="63.50" y1="499.12" y2="499.12" stroke="#333333" stroke-width="1.25"/>
<text x="56.50" y="506.51" text-anchor="end" font-size="19.50" fill="#4d4d4d">4.5</text>
<line x1="59.60" x2="63.50" y1="554.00" y2="554.00" stroke="#333333" stroke-width="1.25"/>
<text x="56.50" y="561.38" text-anchor="end" font-size="19.50" fill="#4d4d4d">5.0</text>
<line x1="59.60" x2="63.50" y1="653.50" y2="653.50" stroke="#333333" stroke-width="1.25"/>
<text x="56.50" y="660.88" text-anchor="end" font-size="19.50" fill="#4d4d4d">2</text>
<line x1="59.60" x2="63.50" y1="726.70" y2="726.70" stroke="#333333" stroke-width="1.25"/>
<text x="56.50" y="734.08" text-anchor="end" font-size="19.50" fill="#4d4d4d">3</text>
<line x1="59.60" x2="63.50" y1="799.90" y2="799.90" stroke="#333333" stroke-width="1.25"/>
<text x="56.50" y="807.28" text-anchor="end" font-size="19.50" fill="#4d4d4d">4</text>
<line x1="59.60" x2="63.50" y1="873.10" y2="873.10" stroke="#333333" stroke-width="1.25"/>
<text x="56.50" y="880.48" text-anchor="end" font-size="19.50" fill="#4d4d4d">5</text>
<line x1="415.95" x2="419.85" y1="653.50" y2="653.50" stroke="#333333" stroke-width="1.25"/>
<text x="412.85" y="660.88" text-anchor="end" font-size="19.50" fill="#4d4d4d">2</text>
<line x1="415.95" x2="419.85" y1="726.70" y2="726.70" stroke="#333333" stroke-width="1.25"/>
<text x="412.85" y="734.08" text-anchor="end" font-size="19.50" fill="#4d4d4d">3</text>
<line x1="415.95" x2="419.85" y1="799.90" y2="799.90" stroke="#333333" stroke-width="1.25"/>
<text x="412.85" y="807.28" text-anchor="end" font-size="19.50" fill="#4d4d4d">4</text>
<line x1="415.95" x2="419.85" y1="873.10" y2="873.10" stroke="#333333" stroke-width="1.25"/>
<text x="412.85" y="880.48" text-anchor="end" font-size="19.50" fill="#4d4d4d">5</text>
<line x1="96.00" x2="96.00" y1="883.85" y2="887.85" stroke="#333333" stroke-width="1.25"/>
<text x="96.00" y="904.25" text-anchor="middle" font-size="19.50" fill="#4d4d4d">160</text>
<line x1="158.88" x2="158.88" y1="883.85" y2="887.85" stroke="#333333" stroke-width="1.25"/>
<text x="158.88" y="904.25" text-anchor="middle" font-size="19.50" fill="#4d4d4d">220</text>
<line x1="221.77" x2="221.77" y1="883.85" y2="887.85" stroke="#333333" stroke-width="1.25"/>
<text x="221.77" y="904.25" text-anchor="middle" font-size="19.50" fill="#4d4d4d">280</text>
<line x1="284.65" x2="284.65" y1="883.85" y2="887.85" stroke="#333333" stroke-width="1.25"/>
<text x="284.65" y="904.25" text-anchor="middle" font-size="19.50" fill="#4d4d4d">340</text>
<line x1="431.80" x2="431.80" y1="883.85" y2="887.85" stroke="#333333" stroke-width="1.25"/>
<text x="431.80" y="904.25" text-anchor="middle" font-size="19.50" fill="#4d4d4d">0</text>
<line x1="497.45" x2="497.45" y1="883.85" y2="887.85" stroke="#333333" stroke-width="1.25"/>
<text x="497.45" y="904.25" text-anchor="middle" font-size="19.50" fill="#4d4d4d">30</text>
<line x1="563.10" x2="563.10" y1="883.85" y2="887.85" stroke="#333333" stroke-width="1.25"/>
<text x="563.10" y="904.25" text-anchor="middle" font-size="19.50" fill="#4d4d4d">60</text>
<line x1="628.75" x2="628.75" y1="883.85" y2="887.85" stroke="#333333" stroke-width="1.25"/>
<text x="628.75" y="904.25" text-anchor="middle" font-size="19.50" fill="#4d4d4d">90</text>
<text transform="translate(16.70,125.20) rotate(-90)" text-anchor="middle" font-size="22.30" fill="#000">log10(σ)</text>
<text transform="translate(18.50,444.10) rotate(-90)" text-anchor="middle" font-size="22.30" fill="#000">log10(Pa)</text>
<text transform="translate(18.50,763.20) rotate(-90)" text-anchor="middle" font-size="22.30" fill="#000">log10(Pa)</text>
<text x="195.50" y="927.60" text-anchor="middle" font-size="22.30" fill="#000">T (K)</text>
<text x="552.00" y="927.60" text-anchor="middle" font-size="22.30" fill="#000">WS (m/s)</text>
<text x="8.10" y="20.10" font-size="28.50" font-weight="bold" fill="#000">a</text>
<text x="366.80" y="20.10" font-size="28.50" font-weight="bold" fill="#000">b</text>
<text x="8.10" y="339.20" font-size="28.50" font-weight="bold" fill="#000">c</text>
<text x="366.80" y="339.20" font-size="28.50" font-weight="bold" fill="#000">d</text>
<text x="8.10" y="658.30" font-size="28.50" font-weight="bold" fill="#000">e</text>
<text x="366.80" y="658.30" font-size="28.50" font-weight="bold" fill="#000">f</text>
<line x1="163.80" x2="181.30" y1="953.65" y2="953.65" stroke="#fc9272" stroke-width="8.30" stroke-opacity="0.80"/>
<text x="189.90" y="959.70" font-size="17.30" fill="#000">TRAPPIST−1e Low</text>
<line x1="163.80" x2="181.30" y1="976.50" y2="976.50" stroke="#9ecae1" stroke-width="8.30" stroke-opacity="0.80"/>
<text x="189.90" y="982.30" font-size="17.30" fill="#000">Earth Low</text>
<line x1="348.90" x2="366.20" y1="953.65" y2="953.65" stroke="#99000d" stroke-width="8.30" stroke-opacity="0.80"/>
<text x="375.20" y="959.70" font-size="17.30" fill="#000">TRAPPIST−1e High</text>
<line x1="348.90" x2="366.20" y1="976.50" y2="976.50" stroke="#084594" stroke-width="8.30" stroke-opacity="0.80"/>
<text x="375.20" y="982.30" font-size="17.30" fill="#000">Earth High</text>
<rect x="272.35" y="997.55" width="19.30" height="14.70" fill="#dcdcdc" stroke="#084594" stroke-width="1.35"/>
<line x1="273.85" x2="290.05" y1="1004.80" y2="1004.80" stroke="#0b3d84" stroke-width="5.5"/>
<text x="298.90" y="1010.80" font-size="17.30" fill="#000">Hist</text>
<rect x="336.85" y="997.75" width="19.30" height="14.70" fill="#dcdcdc" stroke="#99000d" stroke-width="1.35"/>
<line x1="338.35" x2="354.55" y1="1005.00" y2="1005.00" stroke="#85000e" stroke-width="5.5"/>
<text x="363.80" y="1010.80" font-size="17.30" fill="#000">ssp585</text>
<line x1="311.20" x2="328.00" y1="1036.30" y2="1036.30" stroke="#000" stroke-width="5.80" stroke-opacity="1.00"/>
<text x="336.70" y="1043.10" font-size="17.30" fill="#000">ERA5</text>
</svg>
</body></html>
